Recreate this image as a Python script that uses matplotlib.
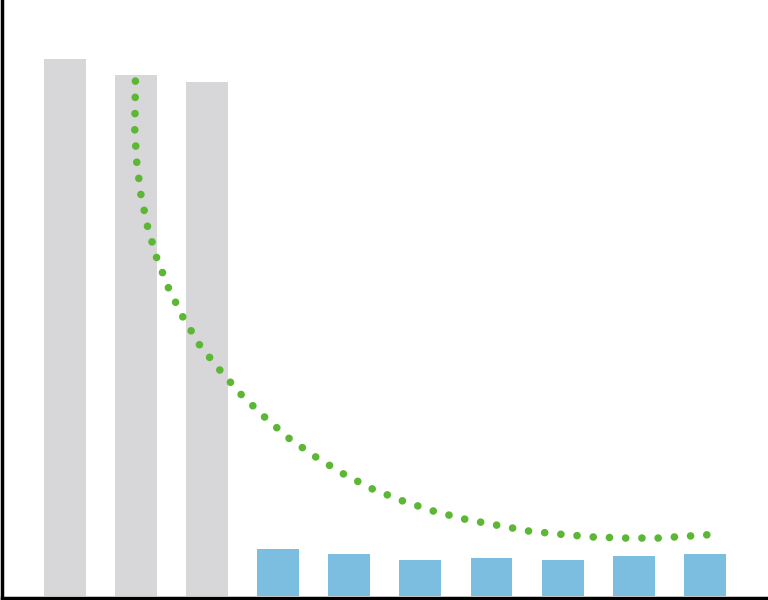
import matplotlib
matplotlib.use("Agg")
import matplotlib.pyplot as plt

# bar data (bar 1 = 100)
categories = list(range(10))
bar_values = [100.0, 97.0, 95.7, 8.75, 7.8, 6.7, 7.1, 6.7, 7.45, 7.8]
bar_colors = ['#d7d7d9'] * 3 + ['#7bbedf'] * 7

# trend curve, points
curve_x = [0.994, 0.985, 1.013, 1.069, 1.163, 1.290, 1.458, 1.660, 1.899, 2.180,
           2.475, 2.813, 3.150, 3.530, 3.924, 4.332, 4.754, 5.190, 5.630, 6.076,
           6.526, 6.976, 7.430, 7.890, 8.340, 8.800, 9.030]
curve_y = [95.9, 86.8, 80.8, 74.9, 68.9, 63.1, 57.4, 52.0, 46.7, 42.1,
           37.6, 33.3, 29.4, 25.9, 22.7, 19.9, 17.7, 15.8, 14.3, 13.2,
           12.1, 11.5, 11.0, 10.8, 10.8, 11.2, 11.4]

fig = plt.figure(figsize=(7.68, 6.0), dpi=100)
ax = fig.add_axes([0.0022, 0.003, 0.9978, 0.997])

ax.bar(categories, bar_values, width=0.59, color=bar_colors, zorder=1)

lw_px = 7.6
ax.plot(curve_x, curve_y, color='#5cb734', linewidth=lw_px * 0.72,
        dashes=[0.01, 16.24 / lw_px - 0.01], dash_capstyle='round', zorder=2)

ax.set_xlim(-0.886, 9.887)
ax.set_ylim(-0.4, 111.0)

for side in ['top', 'right']:
    ax.spines[side].set_visible(False)
for side in ['left', 'bottom']:
    ax.spines[side].set_linewidth(2.5)
    ax.spines[side].set_color('black')
ax.set_xticks([])
ax.set_yticks([])

fig.savefig('out.png', dpi=100)
